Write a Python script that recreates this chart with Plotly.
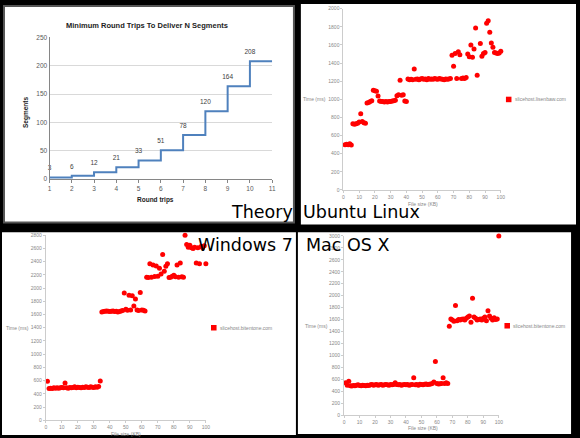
import plotly.graph_objects as go

W, H = 580, 438

# theory panel
round_trips = [1, 2, 3, 4, 5, 6, 7, 8, 9, 10, 11]
segments = [3, 6, 12, 21, 33, 51, 78, 120, 164, 208, 208]
segment_labels = ['3', '6', '12', '21', '33', '51', '78', '120', '164', '208', '']

# measured page loads, one per file size
file_kb = [1, 2, 3, 4, 5, 6, 7, 8, 9, 10, 11, 12, 13, 14, 15, 16, 17, 18, 19, 20,
           21, 22, 23, 24, 25, 26, 27, 28, 29, 30, 31, 32, 33, 34, 35, 36, 37, 38, 39, 40,
           41, 42, 43, 44, 45, 46, 47, 48, 49, 50, 51, 52, 53, 54, 55, 56, 57, 58, 59, 60,
           61, 62, 63, 64, 65, 66, 67, 68, 69, 70, 71, 72, 73, 74, 75, 76, 77, 78, 79, 80,
           81, 82, 83, 84, 85, 86, 87, 88, 89, 90, 91, 92, 93, 94, 95, 96, 97, 98, 99, 100]

ubuntu_ms = [500, 505, 500, 510, 495, 730, 725, 730, 735, 750, 840, 755, 740, 735, 960, 965, 975, 985, 1100, 1095,
             1090, 1035, 980, 975, 975, 970, 975, 970, 975, 975, 980, 985, 990, 1040, 1050, 1210, 1045, 1050, 980, 975,
             1225, 1215, 1220, 1215, 1335, 1220, 1225, 1215, 1225, 1230, 1220, 1225, 1215, 1230, 1220, 1225, 1220, 1230, 1225, 1220,
             1230, 1225, 1220, 1215, 1225, 1220, 1225, 1230, 1485, 1365, 1505, 1230, 1525, 1490, 1230, 1235, 1230, 1240, 1500, 1470,
             1600, 1465, 1555, 1785, 1265, 2015, 1615, 1475, 1505, 1515, 1840, 1865, 1740, 1620, 1575, 1515, 1510, 1505, 1510, 1530]

windows_ms = [590, 480, 485, 480, 490, 485, 490, 485, 490, 495, 490, 565, 490, 485, 495, 490, 495, 505, 490, 500,
              495, 490, 500, 495, 505, 500, 495, 505, 500, 495, 505, 500, 510, 595, 1640, 1645, 1650, 1655, 1650, 1645,
              1650, 1655, 1645, 1650, 1640, 1645, 1655, 1660, 1925, 1680, 1665, 1890, 1670, 1885, 1730, 1835, 1670, 1660, 1935, 1670,
              1665, 1655, 2165, 2160, 2370, 2165, 2350, 2175, 2335, 2180, 2300, 2215, 2510, 2255, 2330, 2370, 2160, 2165, 2180, 2195,
              2170, 2350, 2165, 2380, 2170, 2165, 2800, 2660, 2620, 2650, 2610, 2600, 2620, 2380, 2610, 2370, 2630, 2610, 2640, 2370]

mac_ms = [540, 500, 565, 490, 485, 495, 490, 500, 505, 495, 490, 500, 495, 490, 500, 495, 505, 510, 500, 505,
          510, 500, 505, 510, 500, 505, 510, 505, 500, 510, 505, 510, 540, 510, 505, 510, 500, 505, 510, 505,
          510, 500, 505, 510, 625, 505, 510, 500, 515, 510, 505, 515, 520, 510, 515, 520, 530, 555, 895, 530,
          520, 525, 530, 625, 530, 540, 530, 1485, 1610, 1590, 1570, 1835, 1580, 1600, 1590, 1605, 1610, 1590, 1620, 1640,
          1660, 1555, 1955, 1640, 1620, 1590, 1600, 1610, 1590, 1620, 1640, 1580, 1745, 1660, 1620, 1590, 1630, 1600, 1610, 3000]


def px(x):
    return x / W


def py(y):
    return 1 - y / H


fig = go.Figure()

fig.add_trace(go.Scatter(x=round_trips, y=segments, mode='lines+markers+text', line_shape='hv',
                         line=dict(color='#4f81bd', width=2), marker=dict(size=7, opacity=0),
                         text=segment_labels, textposition='top center',
                         textfont=dict(family='Liberation Sans', size=6.5, color='#404040'),
                         cliponaxis=False, xaxis='x', yaxis='y', showlegend=False))

panels = [
    (ubuntu_ms, 'x2', 'y2'),
    (windows_ms, 'x3', 'y3'),
    (mac_ms, 'x4', 'y4'),
]
for ms, xa, ya in panels:
    fig.add_trace(go.Scatter(x=file_kb, y=ms, mode='markers', marker=dict(color='#ff0000', size=5),
                             cliponaxis=False, xaxis=xa, yaxis=ya, showlegend=False))

tick_font = dict(family='Liberation Sans', size=5, color='#888888')


def time_axes(xdom, ydom, ymax, name):
    xa = dict(domain=xdom, range=[0, 100], dtick=10, showgrid=False, zeroline=False,
              showline=True, linecolor='#cccccc', ticks='outside', ticklen=2,
              tickcolor='#cccccc', tickfont=tick_font, anchor='y' + name)
    ya = dict(domain=ydom, range=[0, ymax], dtick=200, showgrid=False, zeroline=False,
              showline=True, linecolor='#cccccc', ticks='outside', ticklen=2,
              tickcolor='#cccccc', tickfont=tick_font, anchor='x' + name)
    return xa, ya


x2, y2 = time_axes([px(345), px(504)], [py(189), py(4.7)], 2000, '2')
x3, y3 = time_axes([px(44.3), px(206)], [py(423), py(235)], 2800, '3')
x4, y4 = time_axes([px(345.7), px(502)], [py(417.7), py(235.7)], 3000, '4')

excel_font = dict(family='Liberation Sans', size=6.5, color='#595959')

shapes = [
    dict(type='rect', xref='paper', yref='paper', x0=px(2), x1=px(295), y0=py(222), y1=py(2),
         fillcolor='white', line=dict(color='#555555', width=2), layer='below'),
    dict(type='rect', xref='paper', yref='paper', x0=px(302), x1=px(580), y0=py(224), y1=py(0),
         fillcolor='white', line=dict(width=0), layer='below'),
    dict(type='rect', xref='paper', yref='paper', x0=px(0), x1=px(297), y0=py(438), y1=py(232),
         fillcolor='white', line=dict(width=0), layer='below'),
    dict(type='rect', xref='paper', yref='paper', x0=px(299), x1=px(575), y0=py(437), y1=py(232),
         fillcolor='white', line=dict(width=0), layer='below'),
]

annotations = [
    dict(text='<b>Minimum Round Trips To Deliver N Segments</b>', x=px(147), y=py(22),
         font=dict(family='Liberation Sans', size=7.5, color='#222222')),
    dict(text='<b>Segments</b>', x=px(24), y=py(110), textangle=-90,
         font=dict(family='Liberation Sans', size=6.5, color='#222222')),
    dict(text='<b>Round trips</b>', x=px(155), y=py(199.5),
         font=dict(family='Liberation Sans', size=6.5, color='#222222')),
]

legend_names = ['slicehost.lisenbaw.com', 'slicehost.bitentone.com', 'slicehost.bitentone.com']
axis_titles = [
    # y title centre, x title centre, legend key centre
    ((316, 97), (425, 203), (512, 97)),
    ((16, 329), (125, 436.5), (214, 329)),
    ((318, 327), (425, 431), (510.5, 327)),
]
for name, ((yx, yy), (xx, xy), (lx, ly)) in zip(legend_names, axis_titles):
    annotations.append(dict(text='Time (ms)', x=px(yx), y=py(yy), font=tick_font))
    annotations.append(dict(text='File size (KB)', x=px(xx), y=py(xy), font=tick_font))
    annotations.append(dict(text=name, x=px(lx + 4), y=py(ly), xanchor='left', font=tick_font))
    shapes.append(dict(type='rect', xref='paper', yref='paper', x0=px(lx - 2.8), x1=px(lx + 2.8),
                       y0=py(ly + 2.8), y1=py(ly - 2.8), fillcolor='#ff0000', line=dict(width=0)))

big_font = dict(family='DejaVu Sans', size=17.5, color='black')
for label, lx, ly in [('Theory', 229, 211), ('Ubuntu Linux', 302, 211.5),
                      ('Windows 7', 196, 244.5), ('Mac OS X', 305, 244.5)]:
    annotations.append(dict(text=label, x=px(lx), y=py(ly), xanchor='left', font=big_font))

for a in annotations:
    a.setdefault('xref', 'paper')
    a.setdefault('yref', 'paper')
    a.setdefault('showarrow', False)
    a.setdefault('xanchor', 'center')
    a.setdefault('yanchor', 'middle')

fig.update_layout(
    width=W, height=H,
    margin=dict(l=0, r=0, t=0, b=0),
    paper_bgcolor='black',
    plot_bgcolor='white',
    showlegend=False,
    hovermode=False,
    xaxis=dict(domain=[px(48), px(273)], range=[1, 11], tickvals=round_trips, showgrid=False,
               zeroline=False, showline=True, linecolor='#868686', ticks='outside', ticklen=3,
               tickcolor='#868686', tickfont=excel_font, anchor='y'),
    yaxis=dict(domain=[py(178), py(34)], range=[0, 250], dtick=50, showgrid=True,
               gridcolor='#d9d9d9', zeroline=False, showline=True, linecolor='#868686',
               tickfont=excel_font, anchor='x'),
    xaxis2=x2, yaxis2=y2, xaxis3=x3, yaxis3=y3, xaxis4=x4, yaxis4=y4,
    shapes=shapes,
    annotations=annotations,
)

fig.write_html('out.html', config={'displayModeBar': False, 'staticPlot': True},
               post_script="document.body.style.margin='0';document.body.style.overflow='hidden';")
